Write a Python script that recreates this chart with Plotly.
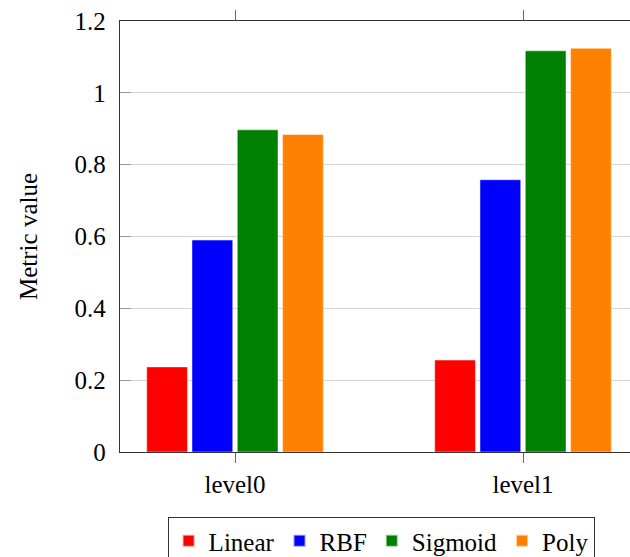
import plotly.graph_objects as go

categories = ["level0", "level1"]
series_names = ["Linear", "RBF", "Sigmoid", "Poly"]
linear = [0.237, 0.256]
rbf = [0.590, 0.758]
sigmoid = [0.897, 1.117]
poly = [0.884, 1.124]
y_tick_vals = [0, 0.2, 0.4, 0.6, 0.8, 1.0, 1.2]
y_tick_text = ["0", "0.2", "0.4", "0.6", "0.8", "1", "1.2"]

colors = ["#ff0000", "#0000ff", "#008000", "#ff8000"]
values = [linear, rbf, sigmoid, poly]

FONT = "Liberation Serif"
FS = 25

fig = go.Figure()
for name, vals, c in zip(series_names, values, colors):
    fig.add_trace(go.Bar(
        x=categories, y=vals, name=name,
        marker=dict(color=c, line=dict(width=0.8, color="rgba(255,255,255,0.6)")),
    ))

fig.update_layout(
    width=630, height=557,
    margin=dict(l=120, r=0, t=21, b=105, autoexpand=False),
    paper_bgcolor="white", plot_bgcolor="white",
    barmode="group", bargap=0.371, bargroupgap=0.10,
    font=dict(family=FONT, size=FS, color="black"),
    showlegend=True,
    legend=dict(
        orientation="h", x=0.512, xanchor="center",
        yref="container", y=0.0718, yanchor="top",
        bordercolor="#333333", borderwidth=1, bgcolor="white",
        font=dict(family=FONT, size=FS), itemwidth=30, tracegroupgap=0,
        itemsizing="constant",
    ),
)
fig.update_xaxes(
    type="category", range=[-0.3993, 1.3715],
    showline=True, linecolor="#333333", linewidth=1.3, mirror="ticks",
    ticks="outside", ticklen=10, tickcolor="#666666", tickwidth=1,
    showgrid=False, zeroline=False,
    tickfont=dict(family=FONT, size=FS),
)
fig.update_yaxes(
    range=[0, 1.2], tickvals=y_tick_vals, ticktext=y_tick_text,
    showline=True, linecolor="#333333", linewidth=1.3, mirror=False,
    ticks="inside", ticklen=11, tickcolor="#999999", tickwidth=1,
    showgrid=True, gridcolor="#d4d4d4", gridwidth=1, zeroline=False,
    tickfont=dict(family=FONT, size=FS), ticklabelstandoff=8,
    title=dict(text="Metric value", font=dict(family=FONT, size=FS), standoff=29),
)

fig.write_html("out.html")
